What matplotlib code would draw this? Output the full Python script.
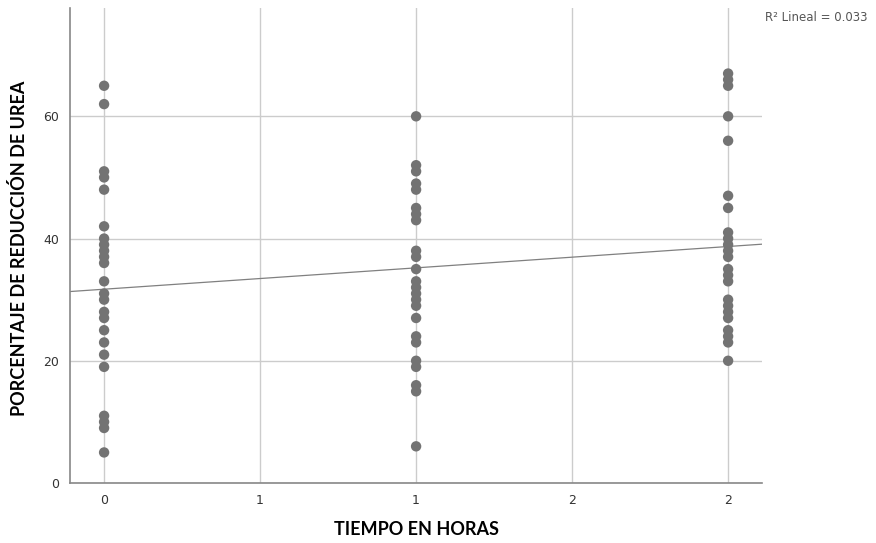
import numpy as np
import matplotlib.pyplot as plt

# urea reduction (%) per measurement time group
horas_0 = [65, 62, 51, 50, 48, 42, 40, 39, 38, 37, 36, 33, 31, 30, 28, 27, 25, 23, 21, 19, 11, 10, 9, 5]
horas_1 = [60, 52, 51, 49, 48, 45, 44, 43, 38, 37, 35, 33, 32, 31, 30, 29, 27, 24, 23, 20, 19, 16, 15, 6]
horas_2 = [67, 66, 65, 60, 56, 47, 45, 41, 40, 39, 38, 37, 35, 34, 33, 30, 29, 28, 27, 25, 24, 23, 20]
grupos = [0, 1, 2]

x_ticks = [0, 0.5, 1, 1.5, 2]
x_labels = ["0", "1", "1", "2", "2"]
y_ticks = [0, 20, 40, 60]
r2_text = "R² Lineal = 0.033"

x = np.concatenate([[g] * len(v) for g, v in zip(grupos, [horas_0, horas_1, horas_2])]).astype(float)
y = np.concatenate([horas_0, horas_1, horas_2]).astype(float)

fig = plt.figure(figsize=(8.76, 5.43), dpi=100)
ax = fig.add_axes([0.080, 0.1105, 0.790, 0.8745])

xlim = (-0.109, 2.109)
ax.set_xlim(*xlim)
ax.set_ylim(0, 77.7)

ax.set_xticks(x_ticks)
ax.set_xticklabels(x_labels)
ax.set_yticks(y_ticks)
ax.tick_params(length=0, labelsize=9, colors="#333333", pad=8)
ax.grid(True, color="#cccccc", linewidth=1.0)
ax.set_axisbelow(True)

for s in ["top", "right"]:
    ax.spines[s].set_visible(False)
for s in ["left", "bottom"]:
    ax.spines[s].set_color("#888888")
    ax.spines[s].set_linewidth(1.2)

ax.scatter(x, y, s=56, color="#737373", edgecolors="none", zorder=3)

# least squares fit line across the full x range
b, a = np.polyfit(x, y, 1)
xs = np.array(xlim)
ax.plot(xs, a + b * xs, color="#808080", linewidth=0.9, zorder=2)

# axis titles placed on the figure
fig.text(0.475, 0.024, "TIEMPO EN HORAS", fontsize=13, fontweight="bold",
         family="Lato", ha="center", va="center")
fig.text(0.022, 0.543, "PORCENTAJE DE REDUCCIÓN DE UREA", fontsize=13, fontweight="bold",
         family="Lato", ha="center", va="center", rotation=90)

fig.text(0.873, 0.967, r2_text, fontsize=8.5, color="#555555", ha="left", va="center")

fig.savefig("out.png", dpi=100)
